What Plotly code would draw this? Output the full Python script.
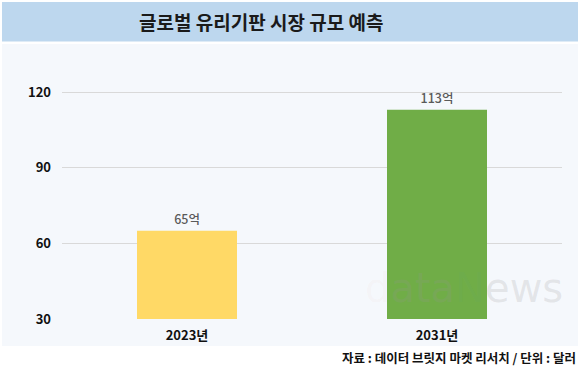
import plotly.graph_objects as go

categories = ["2023년", "2031년"]
values = [65, 113]
labels = ["65억", "113억"]
colors = ["#FFD966", "#70AD47"]
yticks = [30, 60, 90, 120]

FONT = "Noto Sans CJK KR"

fig = go.Figure()
fig.add_trace(go.Bar(
    x=categories, y=values, marker=dict(color=colors, line=dict(width=0)),
    width=0.4, text=labels, textposition="outside", cliponaxis=False,
    textfont=dict(family=FONT, size=12.5, color="#5A5A5A", weight=500),
    hoverinfo="skip",
))

fig.update_layout(
    width=580, height=370,
    margin=dict(l=62, r=18, t=67, b=51),
    paper_bgcolor="white",
    plot_bgcolor="rgba(0,0,0,0)",
    showlegend=False,
    bargap=0.6,
    xaxis=dict(
        range=[-0.5, 1.5], showgrid=False, showline=False, zeroline=False,
        tickfont=dict(family=FONT, size=13, color="#111111", weight="bold"),
        ticks="", ticklen=0, ticklabelstandoff=7,
    ),
    yaxis=dict(
        range=[30, 130], tickvals=yticks, showgrid=True, gridcolor="#D9D9D9",
        gridwidth=1, zeroline=False, showline=False, ticks="",
        tickfont=dict(family=FONT, size=13, color="#111111", weight="bold"),
        ticklabelstandoff=10,
    ),
    shapes=[
        dict(type="rect", xref="paper", yref="paper", x0=-0.12, x1=1.032,
             y0=-0.107, y1=1.091, fillcolor="#F5F8FC", line=dict(width=0), layer="below"),
        dict(type="rect", xref="paper", yref="paper", x0=-0.12, x1=1.032,
             y0=1.101, y1=1.258, fillcolor="#BDD7EE", line=dict(width=0), layer="below"),
    ],
    annotations=[
        dict(text="글로벌 유리기판 시장 규모 예측", xref="paper", yref="paper",
             x=(261 - 62) / 500, y=(319 - 22) / 252, xanchor="center", yanchor="middle",
             showarrow=False, font=dict(family=FONT, size=19, color="#1A1A1A", weight="bold")),
        dict(text="자료 : 데이터 브릿지 마켓 리서치 / 단위 : 달러", xref="paper", yref="paper",
             x=(578 - 62) / 500, y=(319 - 357) / 252, xanchor="right", yanchor="middle",
             showarrow=False, font=dict(family=FONT, size=12.5, color="#111111", weight="bold")),
        dict(text="<span style='color:rgba(235,120,120,0.22)'>d</span>ata"
                  "<span style='color:rgba(60,170,220,0.22)'>N</span>ews",
             xref="paper", yref="paper",
             x=(464 - 62) / 500, y=(319 - 288) / 252, xanchor="center", yanchor="middle",
             showarrow=False, font=dict(family="DejaVu Sans", size=40, color="rgba(150,150,150,0.2)")),
    ],
)

fig.write_html(
    "out.html",
    config={"displayModeBar": False},
    post_script="document.body.style.margin='0';document.body.style.padding='0';"
                "document.body.style.overflow='hidden';",
)
